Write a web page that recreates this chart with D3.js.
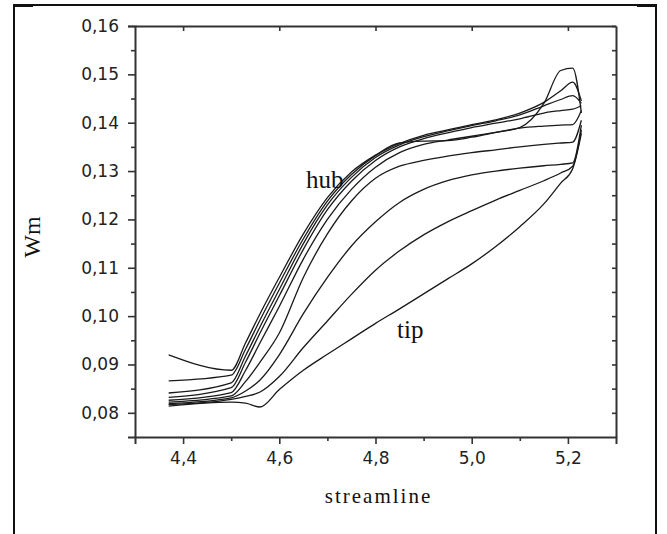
<!DOCTYPE html>
<html>
<head>
<meta charset="utf-8">
<script src="https://cdn.jsdelivr.net/npm/d3@7"></script>
<style>
  body { margin: 0; background: #fff; }
  .tick text { font-family: "DejaVu Sans", sans-serif; font-size: 17px; fill: #222; }
  .axis path, .axis line { stroke: #333; }
  .serif { font-family: "Liberation Serif", "Times New Roman", serif; fill: #111; }
</style>
</head>
<body>
<div id="wrapper"></div>
<script>
// 1. Data

const streamX = [4.37, 4.50, 4.53, 4.56, 4.60, 4.65, 4.70, 4.75, 4.80, 4.85, 4.90, 4.95, 5.00, 5.05, 5.10, 5.15, 5.185, 5.21, 5.228]

const wmHub = [0.0920, 0.0888, 0.0945, 0.1005, 0.1080, 0.1170, 0.1245, 0.1298, 0.1333, 0.1358, 0.1362, 0.1363, 0.1370, 0.1380, 0.1390, 0.1440, 0.1508, 0.1513, 0.1420]
const wmS2  = [0.0866, 0.0878, 0.0932, 0.0992, 0.1068, 0.1160, 0.1238, 0.1293, 0.1332, 0.1357, 0.1374, 0.1385, 0.1396, 0.1406, 0.1420, 0.1442, 0.1466, 0.1484, 0.1445]
const wmS3  = [0.0841, 0.0862, 0.0918, 0.0978, 0.1055, 0.1150, 0.1230, 0.1287, 0.1328, 0.1354, 0.1371, 0.1383, 0.1394, 0.1404, 0.1416, 0.1435, 0.1448, 0.1456, 0.1440]
const wmS4  = [0.0832, 0.0852, 0.0905, 0.0965, 0.1042, 0.1138, 0.1220, 0.1279, 0.1322, 0.1350, 0.1367, 0.1379, 0.1390, 0.1399, 0.1408, 0.1420, 0.1425, 0.1428, 0.1435]
const wmS5  = [0.0826, 0.0842, 0.0888, 0.0945, 0.1020, 0.1118, 0.1200, 0.1262, 0.1308, 0.1338, 0.1355, 0.1364, 0.1372, 0.1380, 0.1389, 0.1393, 0.1395, 0.1396, 0.1425]
const wmS6  = [0.0822, 0.0835, 0.0865, 0.0905, 0.0965, 0.1080, 0.1170, 0.1238, 0.1285, 0.1310, 0.1322, 0.1331, 0.1338, 0.1344, 0.1350, 0.1355, 0.1358, 0.1360, 0.1405]
const wmS7  = [0.0819, 0.0831, 0.0845, 0.0868, 0.0920, 0.1005, 0.1080, 0.1145, 0.1195, 0.1235, 0.1262, 0.1280, 0.1292, 0.1300, 0.1306, 0.1311, 0.1314, 0.1317, 0.1395]
const wmS8  = [0.0817, 0.0828, 0.0834, 0.0843, 0.0875, 0.0935, 0.0990, 0.1045, 0.1095, 0.1135, 0.1168, 0.1195, 0.1218, 0.1240, 0.1260, 0.1280, 0.1296, 0.1310, 0.1385]
const wmTip = [0.0814, 0.0822, 0.0820, 0.0812, 0.0848, 0.0888, 0.0921, 0.0953, 0.0985, 0.1015, 0.1046, 0.1077, 0.1108, 0.1144, 0.1185, 0.1232, 0.1275, 0.1305, 0.1378]

const streamlines = [wmHub, wmS2, wmS3, wmS4, wmS5, wmS6, wmS7, wmS8, wmTip]

const xTicks = [4.4, 4.6, 4.8, 5.0, 5.2]
const xMinorTicks = [4.5, 4.7, 4.9, 5.1]
const yTicks = [0.08, 0.09, 0.10, 0.11, 0.12, 0.13, 0.14, 0.15, 0.16]
const yMinorTicks = [0.085, 0.095, 0.105, 0.115, 0.125, 0.135, 0.145, 0.155]

// 2. Dimensions

const width = 667
const height = 534
const bounds = { left: 135, right: 616, top: 26, bottom: 437 }

// 3. Canvas

const svg = d3.select("#wrapper")
  .append("svg")
    .attr("width", width)
    .attr("height", height)

// outer frame of the figure
svg.append("path")
    .attr("d", "M14,536 L14,5 L656,5 L656,536")
    .attr("fill", "none")
    .attr("stroke", "#111")
    .attr("stroke-width", 2)
svg.append("line").attr("x1", 14).attr("x2", 33).attr("y1", 5.5).attr("y2", 5.5)
    .attr("stroke", "#111").attr("stroke-width", 3)
svg.append("line").attr("x1", 637).attr("x2", 656).attr("y1", 5.5).attr("y2", 5.5)
    .attr("stroke", "#111").attr("stroke-width", 3)

// 4. Scales

const xScale = d3.scaleLinear()
    .domain([4.30, 5.30])
    .range([bounds.left, bounds.right])

const yScale = d3.scaleLinear()
    .domain([0.075, 0.16])
    .range([bounds.bottom, bounds.top])

const commaFormat = digits => d => d3.format(`.${digits}f`)(d).replace(".", ",")

// 5. Data

const lineGenerator = d3.line()
    .x((d, i) => xScale(streamX[i]))
    .y(d => yScale(d))
    .curve(d3.curveMonotoneX)

svg.append("g")
  .selectAll("path")
  .data(streamlines)
  .enter().append("path")
    .attr("d", lineGenerator)
    .attr("fill", "none")
    .attr("stroke", "#1a1a1a")
    .attr("stroke-width", 1.3)

// 6. Axes

const bottomAxis = svg.append("g")
    .attr("class", "axis")
    .attr("transform", `translate(0,${bounds.bottom})`)
    .call(d3.axisBottom(xScale).tickValues(xTicks).tickFormat(commaFormat(1)).tickSize(7).tickPadding(8))
bottomAxis.append("g")
    .call(d3.axisBottom(xScale).tickValues(xMinorTicks).tickFormat("").tickSize(4))
    .call(g => g.select(".domain").remove())

const leftAxis = svg.append("g")
    .attr("class", "axis")
    .attr("transform", `translate(${bounds.left},0)`)
    .call(d3.axisLeft(yScale).tickValues(yTicks).tickFormat(commaFormat(2)).tickSize(7).tickPadding(9))
leftAxis.append("g")
    .call(d3.axisLeft(yScale).tickValues(yMinorTicks).tickFormat("").tickSize(4))
    .call(g => g.select(".domain").remove())

const topAxis = svg.append("g")
    .attr("class", "axis")
    .attr("transform", `translate(0,${bounds.top})`)
    .call(d3.axisBottom(xScale).tickValues(xTicks).tickFormat("").tickSize(5).tickSizeOuter(0))

const rightAxis = svg.append("g")
    .attr("class", "axis")
    .attr("transform", `translate(${bounds.right},0)`)
    .call(d3.axisLeft(yScale).tickValues(yTicks.concat(yMinorTicks)).tickFormat("").tickSize(4).tickSizeOuter(0))

svg.selectAll(".axis .domain").attr("stroke-width", 2)
svg.selectAll(".axis .tick line").attr("stroke-width", 1.6)

// 7. Labels

svg.append("text")
    .attr("class", "serif")
    .attr("x", (bounds.left + bounds.right) / 2 + 3)
    .attr("y", 503)
    .attr("text-anchor", "middle")
    .style("font-size", "21px")
    .style("letter-spacing", "2px")
    .text("streamline")

svg.append("text")
    .attr("class", "serif")
    .attr("transform", "translate(40,237) rotate(-90)")
    .attr("text-anchor", "middle")
    .style("font-size", "24px")
    .text("Wm")

svg.append("text")
    .attr("class", "serif")
    .attr("x", 306)
    .attr("y", 188)
    .style("font-size", "25px")
    .text("hub")

svg.append("text")
    .attr("class", "serif")
    .attr("x", 397)
    .attr("y", 338)
    .style("font-size", "25px")
    .text("tip")
</script>
</body>
</html>
